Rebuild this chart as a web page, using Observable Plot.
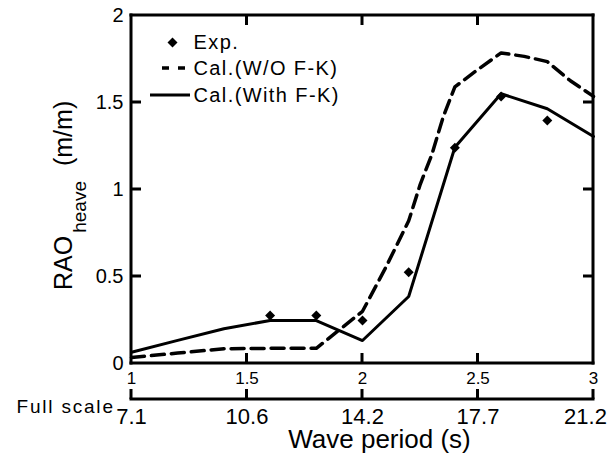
<!DOCTYPE html>
<html><head><meta charset="utf-8">
<script src="https://cdn.jsdelivr.net/npm/d3@7"></script>
<script src="https://cdn.jsdelivr.net/npm/@observablehq/plot@0.6"></script>
<style>body{margin:0;background:#fff;overflow:hidden} svg{font-family:"Liberation Sans",Arial,sans-serif}</style>
</head><body><div id="chart"></div>
<script>
// ---- data ----
const xTicks = [1, 1.5, 2, 2.5, 3];
const fullScaleLabels = ["7.1", "10.6", "14.2", "17.7", "21.2"];
const yTicks = [0, 0.5, 1, 1.5, 2];
const innerXTicks = [1.5, 2, 2.5];
const innerYTicks = [0.5, 1, 1.5];

const withFKPeriod = [1.0, 1.2, 1.4, 1.6, 1.8, 2.0, 2.2, 2.4, 2.6, 2.8, 3.0];
const withFK       = [0.065, 0.133, 0.2, 0.247, 0.247, 0.132, 0.385, 1.243, 1.55, 1.464, 1.305];

const withoutFKPeriod = [1.0, 1.2, 1.4, 1.6, 1.8, 2.0, 2.1, 2.2, 2.25, 2.3, 2.35, 2.4, 2.5, 2.6, 2.7, 2.8, 2.9, 3.0];
const withoutFK       = [0.035, 0.06, 0.085, 0.087, 0.087, 0.30, 0.55, 0.82, 1.03, 1.2, 1.42, 1.59, 1.69, 1.785, 1.765, 1.735, 1.625, 1.535];

const expPeriod = [1.6, 1.8, 2.0, 2.2, 2.4, 2.6, 2.8];
const expRAO    = [0.276, 0.276, 0.247, 0.525, 1.24, 1.535, 1.397];

const seriesLabels = ["Exp.", "Cal.(W/O F-K)", "Cal.(With F-K)"];
const xTitle = "Wave period (s)";
const fullScaleTitle = "Full scale";

// ---- layout ----
const W = 608, H = 454, mL = 131, mR = 15, mT = 15, mB = 91;
const tick = 10, lw = 3;

const chart = Plot.plot({
  width: W, height: H,
  marginLeft: mL, marginRight: mR, marginTop: mT, marginBottom: mB,
  style: {fontFamily: '"Liberation Sans", Arial, sans-serif', background: "white", color: "black", overflow: "visible"},
  x: {domain: [1, 3]},
  y: {domain: [0, 2]},
  marks: [
    Plot.axisX(xTicks, {tickSize: 0, tickPadding: 8, fontSize: 17, tickFormat: d => String(d)}),
    Plot.axisY(yTicks, {tickSize: 0, tickPadding: 8, fontSize: 20, tickFormat: d => String(d)}),
    // full-scale labels
    Plot.text(xTicks.slice(0, 4), {x: d => d, text: (d, i) => fullScaleLabels[i], frameAnchor: "bottom", lineAnchor: "top", dy: 45, fontSize: 22}),
    Plot.text(xTicks.slice(4), {x: d => d, text: (d, i) => fullScaleLabels[4 + i], frameAnchor: "bottom", lineAnchor: "top", dx: -8, dy: 45, fontSize: 22}),
    Plot.text([fullScaleTitle], {frameAnchor: "bottom-left", textAnchor: "start", lineAnchor: "middle", dx: -115, dy: 43, fontSize: 19}),
    Plot.text([xTitle], {frameAnchor: "bottom", lineAnchor: "top", dx: 17, dy: 66, fontSize: 26}),
    // data
    Plot.line(withoutFK, {x: withoutFKPeriod, y: withoutFK, strokeWidth: 3.5, strokeDasharray: "13,7"}),
    Plot.line(withFK, {x: withFKPeriod, y: withFK, strokeWidth: 3}),
    Plot.dot(expRAO, {x: expPeriod, y: expRAO, symbol: "diamond2", r: 4.5, fill: "black", stroke: "none"}),
    // legend
    Plot.dot([seriesLabels[0]], {frameAnchor: "top-left", dx: 41, dy: 27, symbol: "diamond2", r: 4.5, fill: "black", stroke: "none"}),
    Plot.text([seriesLabels[0]], {frameAnchor: "top-left", textAnchor: "start", lineAnchor: "middle", dx: 62, dy: 27, fontSize: 20}),
    Plot.text([seriesLabels[1]], {frameAnchor: "top-left", textAnchor: "start", lineAnchor: "middle", dx: 62, dy: 53, fontSize: 20}),
    Plot.text([seriesLabels[2]], {frameAnchor: "top-left", textAnchor: "start", lineAnchor: "middle", dx: 62, dy: 80, fontSize: 20})
  ]
});

const svg = d3.select(chart);
const sx = chart.scale("x"), sy = chart.scale("y");
const X = v => sx.apply(v), Y = v => sy.apply(v);

svg.selectAll("text").filter(function() { return seriesLabels.includes(this.textContent); }).attr("letter-spacing", 1.4);
svg.selectAll("text").filter(function() { return this.textContent === fullScaleTitle; }).attr("letter-spacing", 1.8);

// filled bars used for frame and ticks (robust rendering)
const deco = svg.append("g").attr("fill", "black").attr("stroke", "none");
function bar(x0, y0, x1, y1) {
  const xa = Math.min(x0, x1), ya = Math.min(y0, y1);
  deco.append("rect").attr("x", xa).attr("y", ya)
    .attr("width", Math.abs(x1 - x0)).attr("height", Math.abs(y1 - y0)).attr("fill", "black");
}
const h = lw / 2;
// frame
bar(X(1) - h, Y(2) - h, X(3) + h, Y(2) + h);
bar(X(1) - h, Y(0) - h, X(3) + h, Y(0) + h);
bar(X(1) - h, Y(2) - h, X(1) + h, Y(0) + h);
bar(X(3) - h, Y(2) - h, X(3) + h, Y(0) + h);
// inward ticks
for (const v of innerXTicks) {
  bar(X(v) - h, Y(0) - tick, X(v) + h, Y(0));
  bar(X(v) - h, Y(2), X(v) + h, Y(2) + tick);
}
for (const v of innerYTicks) {
  bar(X(1), Y(v) - h, X(1) + tick, Y(v) + h);
  bar(X(3) - tick, Y(v) - h, X(3), Y(v) + h);
}
// secondary (full scale) axis
const y2 = Y(0) + 36;
bar(X(1) - h, y2 - h, X(3) + h, y2 + h);
for (const v of xTicks) bar(X(v) - h, y2 - tick, X(v) + h, y2);

// legend line samples
svg.append("line").attr("x1", mL + 31).attr("x2", mL + 57).attr("y1", mT + 53).attr("y2", mT + 53)
  .attr("stroke", "black").attr("stroke-width", 3.5).attr("stroke-dasharray", "7,9");
svg.append("line").attr("x1", mL + 19).attr("x2", mL + 59).attr("y1", mT + 80).attr("y2", mT + 80)
  .attr("stroke", "black").attr("stroke-width", 3);

// y-axis title with subscript
const yt = svg.append("text")
  .attr("transform", `translate(72,${mT + 275}) rotate(-90)`)
  .attr("text-anchor", "start").attr("fill", "black");
yt.append("tspan").attr("font-size", 25).text("RAO");
yt.append("tspan").attr("font-size", 19).attr("dx", 3).attr("dy", 14).text("heave");
yt.append("tspan").attr("font-size", 25).attr("dx", 15).attr("dy", -14).text("(m/m)");

document.getElementById("chart").appendChild(chart);
</script>
</body></html>
